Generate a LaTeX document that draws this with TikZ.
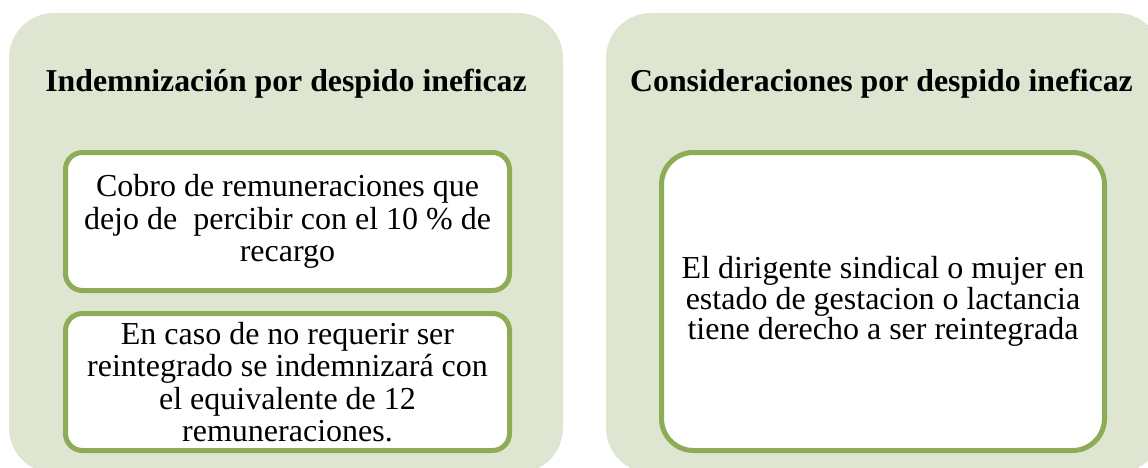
\documentclass[tikz,border=0pt]{standalone}
\usepackage{fontspec}
\setmainfont{Liberation Serif}
\definecolor{panelfill}{HTML}{DEE6D1}
\definecolor{boxline}{HTML}{8EAB55}
\tikzset{
  panel/.style={fill=panelfill, draw=none, rounded corners=45pt, inner sep=0pt, rectangle},
  itembox/.style={fill=white, draw=boxline, line width=5pt, rounded corners=17pt, inner sep=0pt, rectangle, align=center,
     font=\fontsize{32}{32.5}\selectfont},
  bigbox/.style={itembox, rounded corners=32pt, font=\fontsize{32}{30.5}\selectfont},
  title/.style={font=\bfseries\fontsize{31.8}{36}\selectfont, anchor=base, inner sep=0pt}
}
\begin{document}
\begin{tikzpicture}[x=1pt,y=-1pt]
\useasboundingbox (0,0) rectangle (1148,468);
\clip (0,0) rectangle (1148,468);
\node[panel, minimum width=554pt, minimum height=460pt] (pl) at (286,243) {};
\node[panel, minimum width=556pt, minimum height=460pt] (pr) at (884,243) {};
\node[title] (tl) at (286,92) {Indemnización por despido ineficaz};
\node[title] (tr) at (881.5,92) {Consideraciones por despido ineficaz};
\node[itembox, minimum width=444pt, minimum height=138pt] (b1) at (287.5,221.5)
  {Cobro de remuneraciones que\\dejo de \ percibir con el 10 \% de\\recargo};
\node[itembox, minimum width=444pt, minimum height=137pt] (b2) at (287.5,382)
  {En caso de no requerir ser\\reintegrado se indemnizará con\\el equivalente de 12\\remuneraciones.};
\node[bigbox, minimum width=443pt, minimum height=298pt] (b3) at (883,301.5)
  {El dirigente sindical o mujer en\\estado de gestacion o lactancia\\tiene derecho a ser reintegrada};
\end{tikzpicture}
\end{document}
